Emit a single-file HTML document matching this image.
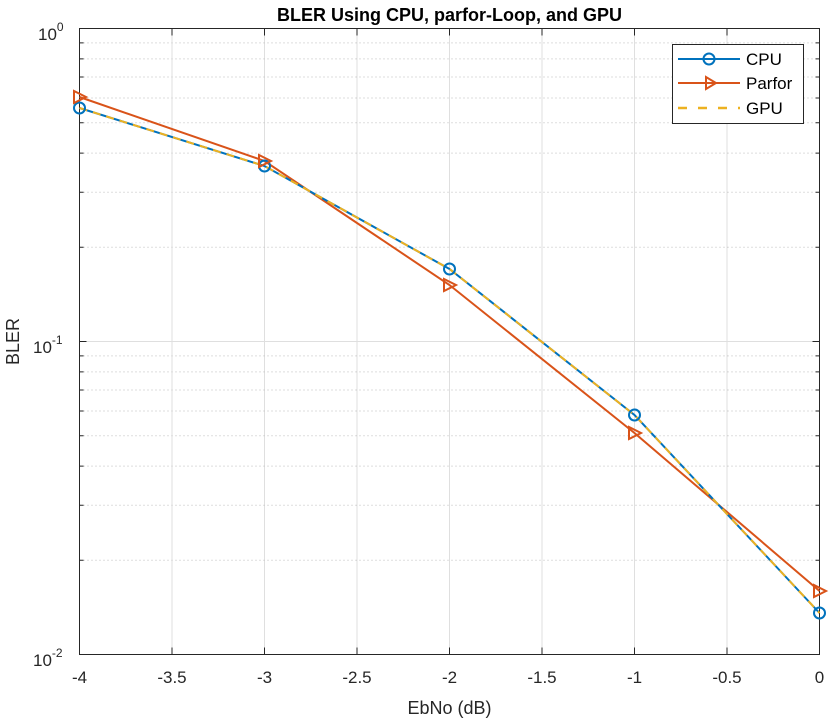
<!DOCTYPE html>
<html><head><style>body{margin:0;background:#fff}svg{display:block}text{font-family:"Liberation Sans",Arial,sans-serif}</style></head><body>
<svg width="831" height="721" viewBox="0 0 831 721" xmlns="http://www.w3.org/2000/svg">
<rect width="831" height="721" fill="#fff"/>
<g stroke="#dfdfdf" stroke-width="1">
<line x1="172" y1="28.5" x2="172" y2="654.5"/><line x1="264.5" y1="28.5" x2="264.5" y2="654.5"/><line x1="357" y1="28.5" x2="357" y2="654.5"/><line x1="449.5" y1="28.5" x2="449.5" y2="654.5"/><line x1="542" y1="28.5" x2="542" y2="654.5"/><line x1="634.5" y1="28.5" x2="634.5" y2="654.5"/><line x1="727" y1="28.5" x2="727" y2="654.5"/>
<line x1="79.5" y1="341.5" x2="819.5" y2="341.5"/>
</g>
<g stroke="#bdbdbd" stroke-width="1" stroke-dasharray="1,3">
<line x1="79.5" y1="560.3" x2="819.5" y2="560.3"/><line x1="79.5" y1="505.2" x2="819.5" y2="505.2"/><line x1="79.5" y1="466.1" x2="819.5" y2="466.1"/><line x1="79.5" y1="435.7" x2="819.5" y2="435.7"/><line x1="79.5" y1="411" x2="819.5" y2="411"/><line x1="79.5" y1="390" x2="819.5" y2="390"/><line x1="79.5" y1="371.9" x2="819.5" y2="371.9"/><line x1="79.5" y1="355.9" x2="819.5" y2="355.9"/>
<line x1="79.5" y1="247.3" x2="819.5" y2="247.3"/><line x1="79.5" y1="192.2" x2="819.5" y2="192.2"/><line x1="79.5" y1="153.1" x2="819.5" y2="153.1"/><line x1="79.5" y1="122.7" x2="819.5" y2="122.7"/><line x1="79.5" y1="98" x2="819.5" y2="98"/><line x1="79.5" y1="77" x2="819.5" y2="77"/><line x1="79.5" y1="58.9" x2="819.5" y2="58.9"/><line x1="79.5" y1="42.9" x2="819.5" y2="42.9"/>
</g>
<g stroke="#262626" stroke-width="1">
<path d="M79.5 560.3h4M79.5 505.2h4M79.5 466.1h4M79.5 435.7h4M79.5 411h4M79.5 390h4M79.5 371.9h4M79.5 355.9h4M79.5 247.3h4M79.5 192.2h4M79.5 153.1h4M79.5 122.7h4M79.5 98h4M79.5 77h4M79.5 58.9h4M79.5 42.9h4"/>
<path d="M819.5 560.3h-4M819.5 505.2h-4M819.5 466.1h-4M819.5 435.7h-4M819.5 411h-4M819.5 390h-4M819.5 371.9h-4M819.5 355.9h-4M819.5 247.3h-4M819.5 192.2h-4M819.5 153.1h-4M819.5 122.7h-4M819.5 98h-4M819.5 77h-4M819.5 58.9h-4M819.5 42.9h-4"/>
<path d="M79.5 341.5h7M819.5 341.5h-7"/>
<path d="M172 654.5v-7M264.5 654.5v-7M357 654.5v-7M449.5 654.5v-7M542 654.5v-7M634.5 654.5v-7M727 654.5v-7"/>
<path d="M172 28.5v7M264.5 28.5v7M357 28.5v7M449.5 28.5v7M542 28.5v7M634.5 28.5v7M727 28.5v7"/>
</g>
<rect x="79.5" y="28.5" width="740" height="626" fill="none" stroke="#262626" stroke-width="1"/>
<polyline points="79.5,97 264.5,161 449.5,285 634.5,433 819.5,591" fill="none" stroke="#d95319" stroke-width="2"/>
<polyline points="79.5,108 264.5,166 449.5,269 634.5,415 819.5,613" fill="none" stroke="#0072bd" stroke-width="2"/>
<polyline points="79.5,108 264.5,166 449.5,269 634.5,415 819.5,613" fill="none" stroke="#edb120" stroke-width="2" stroke-dasharray="8,6"/>
<g fill="none" stroke="#0072bd" stroke-width="2">
<circle cx="79.5" cy="108" r="5.5"/><circle cx="264.5" cy="166" r="5.5"/><circle cx="449.5" cy="269" r="5.5"/><circle cx="634.5" cy="415" r="5.5"/><circle cx="819.5" cy="613" r="5.5"/></g>
<g fill="none" stroke="#d95319" stroke-width="2">
<polygon points="74,91 74,103 86,97"/><polygon points="259,155 259,167 271,161"/><polygon points="444,279 444,291 456,285"/><polygon points="629,427 629,439 641,433"/><polygon points="814,585 814,597 826,591"/></g>
<g font-size="17" fill="#262626" text-anchor="middle">
<text x="79.5" y="683">-4</text><text x="172" y="683">-3.5</text><text x="264.5" y="683">-3</text><text x="357" y="683">-2.5</text><text x="449.5" y="683">-2</text><text x="542" y="683">-1.5</text><text x="634.5" y="683">-1</text><text x="727" y="683">-0.5</text><text x="819.5" y="683">0</text>
</g>
<g font-size="17" fill="#262626">
<text x="38" y="40">10<tspan font-size="12" dy="-9">0</tspan></text>
<text x="33" y="353">10<tspan font-size="12" dy="-9">-1</tspan></text>
<text x="33" y="666">10<tspan font-size="12" dy="-9">-2</tspan></text>
</g>
<text x="449.5" y="714" font-size="18" fill="#262626" text-anchor="middle">EbNo (dB)</text>
<text x="19" y="341.5" font-size="18" fill="#262626" text-anchor="middle" transform="rotate(-90 19 341.5)">BLER</text>
<text x="449.5" y="21" font-size="18" font-weight="bold" fill="#000" text-anchor="middle">BLER Using CPU, parfor-Loop, and GPU</text>
<rect x="672.5" y="44.5" width="131" height="79" fill="#fff" stroke="#262626"/>
<line x1="678" y1="59" x2="740" y2="59" stroke="#0072bd" stroke-width="2"/><circle cx="709" cy="59" r="5.5" fill="none" stroke="#0072bd" stroke-width="2"/>
<line x1="678" y1="83" x2="740" y2="83" stroke="#d95319" stroke-width="2"/><polygon points="706,77 706,89 716,83" fill="none" stroke="#d95319" stroke-width="2"/>
<line x1="678" y1="108" x2="740" y2="108" stroke="#edb120" stroke-width="2.5" stroke-dasharray="9,11"/>
<g font-size="17" fill="#000"><text x="746" y="65">CPU</text><text x="746" y="89">Parfor</text><text x="746" y="114">GPU</text></g>
</svg>
</body></html>
